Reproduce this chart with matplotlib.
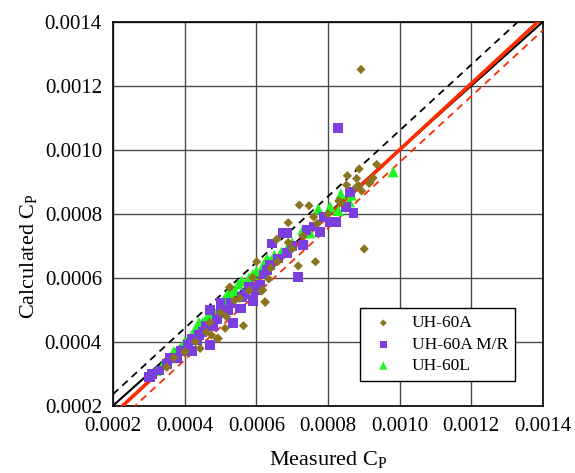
import numpy as np
import matplotlib
matplotlib.use('Agg')
import matplotlib.pyplot as plt

plt.rcParams['font.family'] = ['Liberation Serif', 'DejaVu Serif']
plt.rcParams['mathtext.fontset'] = 'custom'
plt.rcParams['mathtext.rm'] = 'Liberation Serif'

# UH-60A (measured, calculated)
a_x = [0.000892, 0.000901, 0.000720, 0.000747, 0.000765, 0.000717, 0.000625, 0.000635,
       0.000854, 0.000880, 0.000886, 0.000915, 0.000624, 0.000564, 0.000513, 0.000491,
       0.000443, 0.000401, 0.000618, 0.000554, 0.000400, 0.000525, 0.000494, 0.000517,
       0.000475, 0.000657, 0.000689, 0.000601, 0.000527, 0.000689, 0.000838, 0.000852,
       0.000887, 0.000936, 0.000917, 0.000880, 0.000926, 0.000894, 0.000615, 0.000370,
       0.000430, 0.000460, 0.000500, 0.000580, 0.000660, 0.000700, 0.000730, 0.000770,
       0.000800, 0.000830, 0.000350, 0.000760, 0.000540, 0.000470, 0.000590, 0.000640]
a_y = [0.001251, 0.000690, 0.000827, 0.000825, 0.000650, 0.000637, 0.000523, 0.000596,
       0.000919, 0.000910, 0.000887, 0.000895, 0.000525, 0.000450, 0.000442, 0.000410,
       0.000379, 0.000369, 0.000562, 0.000536, 0.000366, 0.000570, 0.000410, 0.000478,
       0.000421, 0.000720, 0.000710, 0.000650, 0.000570, 0.000772, 0.000834, 0.000890,
       0.000940, 0.000954, 0.000897, 0.000884, 0.000912, 0.000871, 0.000559, 0.000350,
       0.000400, 0.000430, 0.000490, 0.000560, 0.000650, 0.000690, 0.000730, 0.000770,
       0.000800, 0.000840, 0.000320, 0.000790, 0.000530, 0.000460, 0.000600, 0.000630]

# UH-60A M/R
m_x = [0.000300, 0.000310, 0.000330, 0.000350, 0.000360, 0.000378, 0.000400, 0.000410,
       0.000420, 0.000434, 0.000450, 0.000460, 0.000471, 0.000480, 0.000500, 0.000500,
       0.000520, 0.000536, 0.000554, 0.000570, 0.000580, 0.000592, 0.000590, 0.000557,
       0.000600, 0.000610, 0.000629, 0.000638, 0.000643, 0.000675, 0.000685, 0.000685,
       0.000717, 0.000731, 0.000740, 0.000778, 0.000806, 0.000824, 0.000861, 0.000871,
       0.000827, 0.000594, 0.000470, 0.000420, 0.000303, 0.000660, 0.000700, 0.000850,
       0.000390, 0.000440, 0.000490, 0.000530, 0.000560, 0.000620, 0.000760, 0.000790]
m_y = [0.000290, 0.000300, 0.000310, 0.000330, 0.000350, 0.000348, 0.000370, 0.000390,
       0.000410, 0.000405, 0.000430, 0.000450, 0.000499, 0.000450, 0.000490, 0.000520,
       0.000500, 0.000459, 0.000504, 0.000550, 0.000570, 0.000530, 0.000528, 0.000504,
       0.000560, 0.000577, 0.000624, 0.000640, 0.000707, 0.000739, 0.000676, 0.000739,
       0.000601, 0.000702, 0.000750, 0.000744, 0.000775, 0.000775, 0.000869, 0.000801,
       0.001067, 0.000564, 0.000390, 0.000370, 0.000290, 0.000660, 0.000700, 0.000820,
       0.000370, 0.000420, 0.000470, 0.000520, 0.000540, 0.000610, 0.000760, 0.000790]

# UH-60L
l_x = [0.000320, 0.000340, 0.000360, 0.000370, 0.000390, 0.000400, 0.000420, 0.000430,
       0.000440, 0.000450, 0.000460, 0.000470, 0.000480, 0.000500, 0.000510, 0.000520,
       0.000530, 0.000540, 0.000550, 0.000560, 0.000580, 0.000600, 0.000620, 0.000630,
       0.000650, 0.000670, 0.000700, 0.000730, 0.000750, 0.000773, 0.000806, 0.000829,
       0.000836, 0.000860, 0.000866, 0.000982, 0.000570, 0.000610, 0.000440, 0.000490,
       0.000530, 0.000590, 0.000640, 0.000690]
l_y = [0.000310, 0.000330, 0.000350, 0.000370, 0.000380, 0.000400, 0.000420, 0.000440,
       0.000430, 0.000460, 0.000470, 0.000480, 0.000500, 0.000510, 0.000530, 0.000550,
       0.000540, 0.000560, 0.000580, 0.000590, 0.000600, 0.000620, 0.000640, 0.000660,
       0.000670, 0.000680, 0.000710, 0.000750, 0.000740, 0.000815, 0.000822, 0.000810,
       0.000862, 0.000837, 0.000858, 0.000931, 0.000550, 0.000580, 0.000460, 0.000490,
       0.000560, 0.000610, 0.000650, 0.000700]

# reference / fit lines: (slope, intercept)
fit_line = (1.035, -0.000035)
upper_band = (1.03, 0.00003)
lower_band = (1.031, -0.00007)

fig = plt.figure(figsize=(5.75, 4.73), dpi=100)
ax = fig.add_axes([0.1965, 0.1423, 0.7478, 0.8117])

xs = np.array([0.0002, 0.0014])
red = '#ff2a00'
ax.plot(xs, xs, color='black', lw=1.5, zorder=3)
ax.plot(xs, upper_band[0] * xs + upper_band[1], color='black', lw=1.3, ls=(0, (4, 3)), zorder=3)
ax.plot(xs, lower_band[0] * xs + lower_band[1], color=red, lw=1.3, ls=(0, (4, 3)), zorder=3)
ax.plot(xs, fit_line[0] * xs + fit_line[1], color=red, lw=2.6, zorder=3)

ax.scatter(l_x, l_y, marker='^', s=62, color='#1ff51f', edgecolors='none', zorder=4, label='UH-60L')
ax.scatter(m_x, m_y, marker='s', s=50, color='#7b3fe0', edgecolors='none', zorder=4, label='UH-60A M/R')
ax.scatter(a_x, a_y, marker='D', s=22, color='#8b7420', edgecolors='none', zorder=5, label='UH-60A')

ax.set_xlim(0.0002, 0.0014)
ax.set_ylim(0.0002, 0.0014)
ticks = np.arange(0.0002, 0.00141, 0.0002)
ax.set_xticks(ticks)
ax.set_yticks(ticks)
ax.set_xticklabels(['%.4f' % t for t in ticks])
ax.set_yticklabels(['%.4f' % t for t in ticks])
ax.tick_params(labelsize=15, length=0, pad=8)
ax.grid(True, color='#4a4a4a', lw=1.0)
ax.set_axisbelow(True)
for s in ax.spines.values():
    s.set_linewidth(1.2)

ax.set_xlabel(r'Measured C$_\mathrm{P}$', fontsize=16, labelpad=10)
ax.set_ylabel(r'Calculated C$_\mathrm{P}$', fontsize=16)
ax.yaxis.set_label_coords(-0.17, 0.39)

h, l = ax.get_legend_handles_labels()
leg = ax.legend(h[::-1], l[::-1], loc='lower right', bbox_to_anchor=(0.935, 0.064),
                fontsize=12.5, frameon=True, fancybox=False, edgecolor='black',
                framealpha=1, borderpad=0.4, labelspacing=0.3, handletextpad=0.7,
                handlelength=1.9, borderaxespad=0, scatterpoints=1, markerscale=0.75)
leg.get_frame().set_linewidth(1.0)

fig.savefig('out.png', dpi=100)
